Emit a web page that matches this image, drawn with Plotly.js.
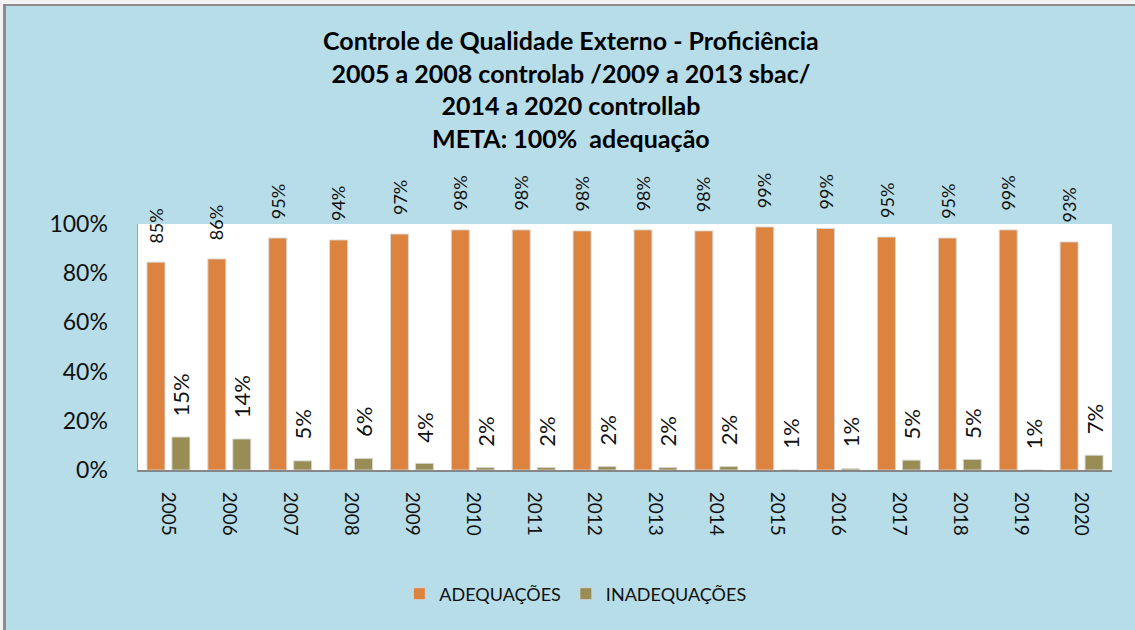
<!DOCTYPE html>
<html>
<head>
<meta charset="utf-8">
<script src="https://cdn.plot.ly/plotly-3.0.1.min.js"></script>
<style>
  html, body { margin: 0; padding: 0; background: #ffffff; }
  #chart { position: absolute; left: 0; top: 0; width: 1135px; height: 630px; }
  .frame-top { position: absolute; left: 0; top: 0; width: 1135px; height: 4px; background: #f2f2f2; pointer-events: none; }
  .frame-left { position: absolute; left: 0; top: 0; width: 3px; height: 630px; background: #f2f2f2; pointer-events: none; }
  .border { position: absolute; left: 3px; top: 4px; width: 1132px; height: 626px;
            border-top: 2px solid #8c8c8c; border-left: 3px solid #8c8c8c; box-sizing: border-box; pointer-events: none; }
</style>
</head>
<body>
<div id="chart"></div>
<div class="frame-top"></div>
<div class="frame-left"></div>
<div class="border"></div>
<script>
// ---- data ----
var years = ["2005","2006","2007","2008","2009","2010","2011","2012","2013","2014","2015","2016","2017","2018","2019","2020"];
var adequacoes = [0.845,0.858,0.943,0.935,0.959,0.976,0.976,0.972,0.976,0.972,0.988,0.982,0.947,0.943,0.976,0.927];
var inadequacoes = [0.134,0.126,0.037,0.047,0.027,0.010,0.010,0.014,0.010,0.014,0.000,0.005,0.040,0.043,0.000,0.060];
var adequacoesLabels = ["85%","86%","95%","94%","97%","98%","98%","98%","98%","98%","99%","99%","95%","95%","99%","93%"];
var inadequacoesLabels = ["15%","14%","5%","6%","4%","2%","2%","2%","2%","2%","1%","1%","5%","5%","1%","7%"];
var yTicks = [0, 0.2, 0.4, 0.6, 0.8, 1.0];
var yTickLabels = ["0%","20%","40%","60%","80%","100%"];

var FONT = 'Lato, "Open Sans", "DejaVu Sans", sans-serif';
var ORANGE = '#DC843F';
var OLIVE = '#978D55';

var traces = [
  {
    type: 'bar', name: 'ADEQUAÇÕES', x: years, y: adequacoes,
    marker: { color: ORANGE, line: { color: 'rgba(215,215,215,0.9)', width: 1 } },
    hoverinfo: 'x+y'
  },
  {
    type: 'bar', name: 'INADEQUAÇÕES', x: years, y: inadequacoes,
    marker: { color: OLIVE, line: { color: 'rgba(215,215,215,0.9)', width: 1 } },
    hoverinfo: 'x+y'
  }
];

var annotations = [];
years.forEach(function (yr, i) {
  annotations.push({
    x: i, y: adequacoes[i], xref: 'x', yref: 'y',
    text: adequacoesLabels[i], showarrow: false, textangle: -90,
    xanchor: 'center', yanchor: 'bottom', xshift: -12.5, yshift: 17,
    font: { family: FONT, size: 18, color: '#111111' }
  });
  annotations.push({
    x: i, y: inadequacoes[i], xref: 'x', yref: 'y',
    text: inadequacoesLabels[i], showarrow: false, textangle: -90,
    xanchor: 'center', yanchor: 'bottom', xshift: 12.5, yshift: 19,
    font: { family: FONT, size: 22, color: '#111111' }
  });
});

var layout = {
  width: 1135, height: 630,
  paper_bgcolor: '#B7DDE8',
  plot_bgcolor: '#FFFFFF',
  margin: { l: 138, r: 23, t: 224, b: 160, pad: 0 },
  barmode: 'group',
  bargap: 0.18,
  bargroupgap: 0.28,
  title: {
    text: '<b>Controle de Qualidade Externo - Proficiência<br>2005 a 2008 controlab /2009 a 2013 sbac/<br>2014 a 2020 controllab<br>META: 100%  adequação</b>',
    font: { family: FONT, size: 25, color: '#000000' },
    x: 0.503, xanchor: 'center', y: 0.92, yanchor: 'top'
  },
  xaxis: {
    type: 'category',
    range: [-0.5, years.length - 0.5],
    tickangle: 90,
    tickfont: { family: FONT, size: 19, color: '#111111' },
    showgrid: false, zeroline: false,
    showline: true, linecolor: '#878787', linewidth: 2,
    ticks: '', ticklen: 0, ticklabelstandoff: 16
  },
  yaxis: {
    range: [0, 1],
    tickvals: yTicks, ticktext: yTickLabels,
    tickfont: { family: FONT, size: 23, color: '#111111' },
    showgrid: false, zeroline: false,
    showline: true, linecolor: '#a0a0a0', linewidth: 1.5,
    ticks: '', ticklabelstandoff: 24
  },
  legend: {
    orientation: 'h', x: 0.449, xanchor: 'center', y: -0.504, yanchor: 'middle',
    font: { family: FONT, size: 18, color: '#111111' },
    bgcolor: 'rgba(0,0,0,0)', traceorder: 'normal'
  },
  annotations: annotations,
  showlegend: true
};

Plotly.newPlot('chart', traces, layout, { displayModeBar: false, staticPlot: true });
</script>
</body>
</html>
